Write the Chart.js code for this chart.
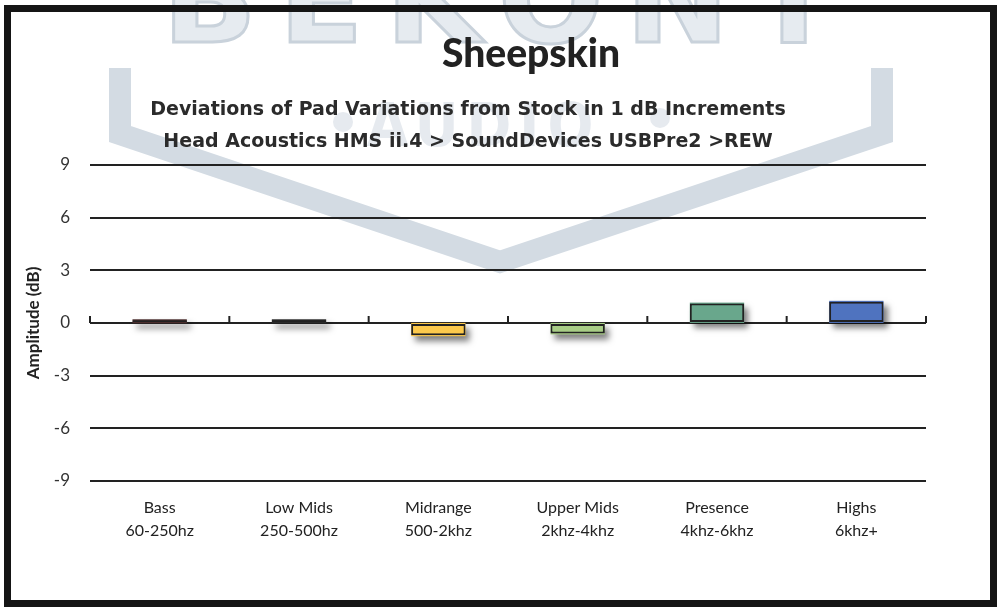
<!DOCTYPE html>
<html>
<head>
<meta charset="utf-8">
<script src="https://cdn.jsdelivr.net/npm/chart.js@4.4.1/dist/chart.umd.min.js"></script>
<style>
  html, body { margin: 0; padding: 0; background: #fff; }
  #wrap { width: 1000px; height: 613px; position: relative; }
</style>
</head>
<body>
<div id="wrap"><canvas id="padChart"></canvas></div>
<script>
// ---- data ----
const categories = [
    ["Bass", "60-250hz"],
    ["Low Mids", "250-500hz"],
    ["Midrange", "500-2khz"],
    ["Upper Mids", "2khz-4khz"],
    ["Presence", "4khz-6khz"],
    ["Highs", "6khz+"]
];
const amplitudes = [0.15, 0.15, -0.7, -0.6, 1.1, 1.2];
const barColors = ["#4b2d2d", "#2b2b2b", "#fcc94c", "#a8cd86", "#69a78c", "#4f73bf"];
const yTicks = [-9, -6, -3, 0, 3, 6, 9];

const chartTitle = "Sheepskin";
const subTitle = [
    "Deviations of Pad Variations from Stock in 1 dB Increments",
    "Head Acoustics HMS ii.4 > SoundDevices USBPre2 >REW"
];

// watermark, title, bar shadows, zero-line ticks and frame
const backdrop = {
    id: "backdrop",
    beforeDraw(chart) {
        const ctx = chart.ctx;
        ctx.save();
        ctx.fillStyle = "#fff";
        ctx.fillRect(0, 0, chart.width, chart.height);

        // chevron
        ctx.strokeStyle = "#d3dbe3";
        ctx.lineWidth = 22;
        ctx.lineJoin = "miter";
        ctx.beginPath();
        ctx.moveTo(120, 68);
        ctx.lineTo(120, 134);
        ctx.lineTo(500, 262);
        ctx.lineTo(882, 134);
        ctx.lineTo(882, 68);
        ctx.stroke();

        // BEKONT letters (cut off at top)
        ctx.font = "bold 124px 'DejaVu Sans'";
        ctx.letterSpacing = "22px";
        ctx.textAlign = "center";
        ctx.textBaseline = "alphabetic";
        ctx.fillStyle = "#e6ebf0";
        ctx.strokeStyle = "#c9d2db";
        ctx.lineWidth = 3;
        ctx.fillText("BEKONT", 510, 42);
        ctx.strokeText("BEKONT", 510, 42);

        // AUDIO
        ctx.font = "bold 60px 'DejaVu Sans Condensed'";
        ctx.letterSpacing = "8px";
        ctx.fillStyle = "#e6eaef";
        ctx.fillText("AUDIO", 484, 146);
        ctx.beginPath();
        ctx.arc(343, 122, 10, 0, Math.PI * 2);
        ctx.arc(660, 118, 10, 0, Math.PI * 2);
        ctx.fill();
        ctx.letterSpacing = "0px";

        // main title
        ctx.font = "900 39px Lato";
        ctx.fillStyle = "#222";
        ctx.fillText(chartTitle, 531, 67);
        ctx.restore();
    },
    beforeDatasetsDraw(chart) {
        // soft drop shadow under each bar
        const ctx = chart.ctx;
        const meta = chart.getDatasetMeta(0);
        ctx.save();
        ctx.shadowColor = "rgba(0,0,0,0.5)";
        ctx.shadowBlur = 6;
        ctx.shadowOffsetX = 4;
        ctx.shadowOffsetY = 5;
        meta.data.forEach((bar, i) => {
            const p = bar.getProps(["x", "y", "base", "width"], true);
            const top = Math.min(p.y, p.base);
            const h = Math.max(Math.abs(p.base - p.y), 2);
            ctx.fillStyle = barColors[i];
            ctx.fillRect(p.x - p.width / 2, top - 1, p.width, h + 2);
        });
        ctx.restore();
    },
    afterDatasetsDraw(chart) {
        const ctx = chart.ctx;
        // up-pointing category ticks on the zero line
        const x = chart.scales.x, y = chart.scales.y;
        const y0 = y.getPixelForValue(0);
        const half = (x.getPixelForValue(1) - x.getPixelForValue(0)) / 2;
        ctx.save();
        ctx.strokeStyle = "#222";
        ctx.lineWidth = 2;
        ctx.beginPath();
        for (let i = 0; i <= categories.length; i++) {
            const px = x.getPixelForValue(i) - half;
            ctx.moveTo(px, y0);
            ctx.lineTo(px, y0 - 7);
        }
        ctx.stroke();
        ctx.restore();
    },
    afterDraw(chart) {
        const ctx = chart.ctx;
        ctx.save();
        ctx.strokeStyle = "#151515";
        ctx.lineWidth = 7;
        ctx.strokeRect(7.5, 8.5, 986, 595);
        ctx.restore();
    }
};

new Chart(document.getElementById("padChart"), {
    type: "bar",
    data: {
        labels: categories,
        datasets: [{
            data: amplitudes,
            backgroundColor: barColors,
            borderColor: "#222",
            borderWidth: 2,
            borderSkipped: false,
            categoryPercentage: 1,
            barPercentage: 0.39
        }]
    },
    options: {
        responsive: true,
        maintainAspectRatio: false,
        animation: false,
        layout: { padding: { left: 10, right: 74, top: 0, bottom: 10 } },
        plugins: {
            legend: { display: false },
            tooltip: { enabled: false },
            title: { display: false },
            subtitle: {
                display: true,
                text: subTitle,
                color: "#2b2b2b",
                font: { family: "'DejaVu Sans'", size: 19, weight: "bold", lineHeight: 1.68 },
                padding: { top: 94, bottom: 7 }
            }
        },
        scales: {
            x: {
                grid: { display: false, drawTicks: false },
                border: { display: false },
                ticks: {
                    color: "#222",
                    padding: 16,
                    maxRotation: 0,
                    font: { family: "Lato", size: 16, lineHeight: 1.4 }
                },
                afterFit: (scale) => { scale.height = 122; }
            },
            y: {
                min: -9,
                max: 9,
                afterBuildTicks: (scale) => { scale.ticks = yTicks.map(v => ({ value: v })); },
                grid: { color: "#222", lineWidth: 2, drawTicks: false },
                border: { display: false },
                ticks: {
                    color: "#333",
                    padding: 20,
                    font: { family: "Lato", size: 17 }
                },
                title: {
                    display: true,
                    text: "Amplitude (dB)",
                    color: "#222",
                    font: { family: "Lato", size: 17, weight: "bold" },
                    padding: { top: 13 }
                },
                afterFit: (scale) => { scale.width = 80; }
            }
        }
    },
    plugins: [backdrop]
});
</script>
</body>
</html>
